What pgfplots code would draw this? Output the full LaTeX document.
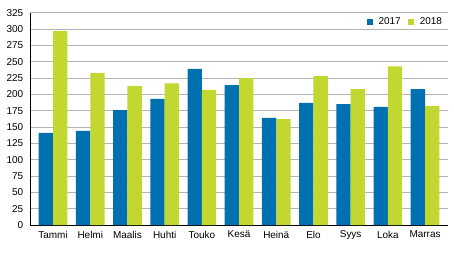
\documentclass[border=0pt]{standalone}
\usepackage{pgfplots}
\pgfplotsset{compat=1.18}
\usepackage{fontspec}
\setmainfont{Liberation Sans}
\definecolor{c17}{HTML}{0070B0}
\definecolor{c18}{HTML}{C2D72F}
\definecolor{gridc}{HTML}{B4B4B4}
\begin{document}
\fontsize{10}{12}\selectfont
\begin{tikzpicture}
\begin{axis}[name=ax,
  x=37.2bp, y=0.6532bp,
  xmin=-0.62, xmax=10.62, ymin=0, ymax=325,
  ybar=0pt, bar width=0.385,
  axis x line*=bottom, axis y line*=left,
  axis line style={black, line width=0.9bp, -},
  xtick={0,...,10},
  xticklabels={Tammi,Helmi,Maalis,Huhti,Touko,Kesä,Heinä,Elo,Syys,Loka,Marras},
  ytick={0,25,...,325},
  major tick length=0pt,
  ymajorgrids, grid style={gridc, line width=0.9bp},
  tick label style={font=\fontsize{10}{12}\selectfont},
  /pgf/number format/assume math mode=true,
  yticklabel style={xshift=-3.2bp},
  xticklabel style={yshift=-2.5bp},
  legend columns=2,
  legend style={draw=none, fill=none, at={(1,1)}, anchor=north east, xshift=-6bp, yshift=-4.5bp,
    font=\fontsize{10}{12}\selectfont, inner sep=0pt, nodes={inner sep=0pt},
    /tikz/every odd column/.style={column sep=6bp},
    /tikz/every even column/.style={column sep=7bp}},
  legend image code/.code={\fill[#1] (0bp,-3bp) rectangle (6bp,3bp);},
  clip=false,
]
\addplot[fill=c17, draw=none] coordinates {(0,141) (1,144) (2,176) (3,193) (4,239) (5,214) (6,164) (7,187) (8,185) (9,181) (10,208)};
\addplot[fill=c18, draw=none] coordinates {(0,297) (1,233) (2,213) (3,217) (4,207) (5,225) (6,162) (7,228) (8,208) (9,243) (10,182)};
\legend{2017,2018}
\end{axis}
\path[use as bounding box] ([shift={(-30bp,-28bp)}]ax.south west) rectangle ([shift={(424bp,225bp)}]ax.south west);
\end{tikzpicture}
\end{document}
